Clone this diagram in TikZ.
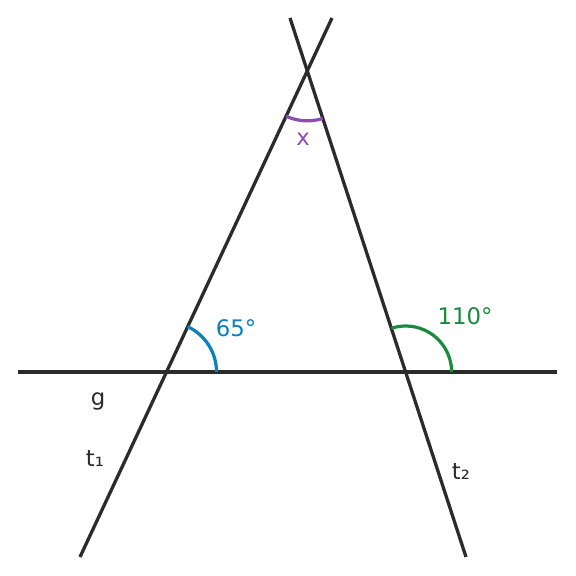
\documentclass[tikz,border=0pt]{standalone}
\usepackage{fontspec}
\setmainfont{DejaVu Sans}
\usetikzlibrary{calc}
\definecolor{linegray}{HTML}{2B2B2B}
\definecolor{angblue}{HTML}{0A80BD}
\definecolor{anggreen}{HTML}{1A8A3E}
\definecolor{angpurple}{HTML}{8E4CB0}

\begin{document}
\begin{tikzpicture}[x=0.5pt,y=0.5pt,
	    line/.style={draw=linegray,line width=1.65pt},
	    angarc/.style={line width=1.6pt},
	    lbl/.style={font=\fontsize{11.4}{13}\selectfont,inner sep=0pt}]
		\useasboundingbox (0,0) rectangle (576,576);

		\coordinate (gL) at (18,204);
		\coordinate (gR) at (557,204);
		\coordinate (t1a) at (80,19);
		\coordinate (t1b) at (332,558);
		\coordinate (t2a) at (290,558);
		\coordinate (t2b) at (466,19);

		\coordinate (A) at (intersection of gL--gR and t1a--t1b);
		\coordinate (B) at (intersection of gL--gR and t2a--t2b);
		\coordinate (C) at (intersection of t1a--t1b and t2a--t2b);

		\draw[line] (gL) -- (gR);
		\draw[line] (t1a) -- (t1b);
		\draw[line] (t2a) -- (t2b);

		% angles
		\draw[angarc,angblue] ($(A)+(0:25pt)$) arc[start angle=0,end angle=65,radius=25pt];
		\draw[angarc,anggreen] ($(B)+(0:23pt)$) arc[start angle=0,end angle=108,radius=23pt];
		\draw[angarc,angpurple] ($(C)+(245:25pt)$) arc[start angle=245,end angle=288,radius=25pt];

		\node[lbl,text=angblue] (l65) at (236,248) {65°};
		\node[lbl,text=anggreen] (l110) at (465,260) {110°};
		\node[lbl,text=angpurple] (lx) at (303,437) {x};
		\node[lbl,text=linegray] (lg) at (98,175) {g};
		\node[lbl,text=linegray] (lt1) at (95,118) {t₁};
		\node[lbl,text=linegray] (lt2) at (461,105) {t₂};
\end{tikzpicture}
\end{document}
